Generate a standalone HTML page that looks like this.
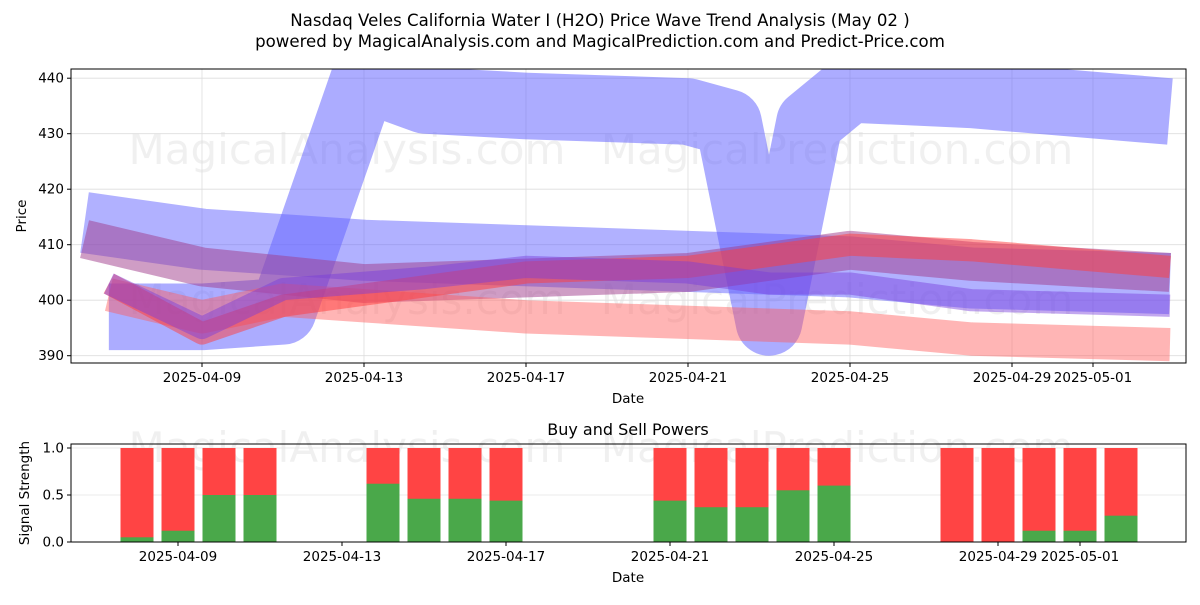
<!DOCTYPE html>
<html><head><meta charset="utf-8"><style>
body{margin:0;background:#fff;font-family:"Liberation Sans","DejaVu Sans",sans-serif}
svg text{font-family:"DejaVu Sans","Liberation Sans",sans-serif;fill:#000}
</style></head><body>
<svg id="chart" width="1200" height="600" viewBox="0 0 1200 600" xmlns="http://www.w3.org/2000/svg">
<text x="600" y="26" font-size="16.6" text-anchor="middle">Nasdaq Veles California Water I (H2O) Price Wave Trend Analysis (May 02 )</text>
<text x="600" y="47" font-size="16.6" text-anchor="middle">powered by MagicalAnalysis.com and MagicalPrediction.com and Predict-Price.com</text>
<g id="topPanel"></g>
<g id="botPanel"></g>
</svg>
<script>
// ---- data ----
const bandDays = [-2.9,-2.3,0,2,4,5.5,8,12,13,14,15,16,19,21,23.9];
const bigBand = [null,397,397,398,440,436,435,434,432,396,432,438,437,null,434];
const upperBand = [414,null,411,null,409,null,408,407,null,null,null,406,404,null,403];
const purpleBand = [411,null,406,null,403,null,404,405,null,null,null,409,407,null,405];
const redLowBand = [null,401,397,400,399,null,397,396,null,null,null,395,393,null,392];
const redMidBand = [null,403,394,399,401,null,405,406,null,null,null,410,409,null,406];
const purpleLowBand = [null,403,395,402,null,404,406,405,null,403,null,403,400,null,399];
const bandWidths = [12,11,7,6,4,4];
const topTicks = [390,400,410,420,430,440];
const dateTickDays = [0,4,8,12,16,20,22];
const dateTickLabels = ["2025-04-09","2025-04-13","2025-04-17","2025-04-21","2025-04-25","2025-04-29","2025-05-01"];
const barDays = [-1,0,1,2,5,6,7,8,12,13,14,15,16,19,20,21,22,23];
const buyPower = [0.05,0.12,0.5,0.5,0.62,0.46,0.46,0.44,0.44,0.37,0.37,0.55,0.6,0,0,0.12,0.12,0.28];
const botTicks = [0,0.5,1];
const botTickLabels = ["0.0","0.5","1.0"];

const NS="http://www.w3.org/2000/svg";
function mk(tag,attrs,parent,txt){const e=document.createElementNS(NS,tag);for(const k in attrs)e.setAttribute(k,attrs[k]);if(txt!==undefined)e.textContent=txt;parent.appendChild(e);return e;}
const topG=document.getElementById('topPanel'), botG=document.getElementById('botPanel');
const TL=71,TR=1186,TT=69,TB=363;
const tx=d=>202+40.5*d, ty=v=>355.7-(v-390)*5.55;
const BT=444,BB=542;
const bx=d=>178+41*d, by=v=>542-v*94;

// watermarks
[[150,"MagicalAnalysis.com",347],[150,"MagicalPrediction.com",837],[300,"MagicalAnalysis.com",347],[300,"MagicalPrediction.com",837],[448,"MagicalAnalysis.com",347],[448,"MagicalPrediction.com",837]].forEach(w=>{
  const t=mk('text',{x:w[2],y:w[0]+14,'font-size':42,'text-anchor':'middle',style:'fill:#000;fill-opacity:0.06'},topG,w[1]);
  
  
});
// grid
topTicks.forEach(v=>{const l=mk('line',{x1:TL,x2:TR,y1:ty(v),y2:ty(v),stroke:'#ddd','stroke-width':0.8},topG);
 
 });
dateTickDays.forEach(d=>{const l=mk('line',{x1:tx(d),x2:tx(d),y1:TT,y2:TB,stroke:'#ddd','stroke-width':0.8},topG);
 
 });
// bands
const clip=mk('clipPath',{id:'tc'},topG);mk('rect',{x:TL,y:TT,width:TR-TL,height:TB-TT},clip);
const bg=mk('g',{'clip-path':'url(#tc)'},topG);
const bands=[[bigBand,'rgba(90,90,255,0.5)'],[upperBand,'rgba(100,100,255,0.5)'],[purpleBand,'rgba(160,60,140,0.5)'],[redLowBand,'rgba(255,90,90,0.45)'],[redMidBand,'rgba(255,60,60,0.5)'],[purpleLowBand,'rgba(120,60,220,0.45)']];
const bandNames=['wave-band-large-blue','wave-band-upper-blue','wave-band-purple','wave-band-lower-red','wave-band-middle-red','wave-band-lower-purple'];
bands.forEach((b,i)=>{
  const pts=[];b[0].forEach((v,j)=>{if(v!==null)pts.push(tx(bandDays[j])+','+ty(v));});
  const pl=mk('polyline',{points:pts.join(' '),fill:'none',stroke:b[1],'stroke-width':bandWidths[i]*5.55,'stroke-linejoin':'round','stroke-linecap':'butt'},bg);
  
  
});
mk('rect',{x:TL,y:TT,width:TR-TL,height:TB-TT,fill:'none',stroke:'#000','stroke-width':1},topG);
topTicks.forEach(v=>{mk('line',{x1:TL-4,x2:TL,y1:ty(v),y2:ty(v),stroke:'#000'},topG);
 const t=mk('text',{x:TL-7,y:ty(v)+4.5,'font-size':13.5,'text-anchor':'end'},topG,v);
 
 });
dateTickDays.forEach((d,i)=>{mk('line',{x1:tx(d),x2:tx(d),y1:TB,y2:TB+4,stroke:'#000'},topG);
 const t=mk('text',{x:tx(d),y:TB+19,'font-size':13.5,'text-anchor':'middle'},topG,dateTickLabels[i]);
 
 });
mk('text',{x:628,y:403,'font-size':13.5,'text-anchor':'middle',},topG,'Date');
mk('text',{x:26,y:216,'font-size':13.5,'text-anchor':'middle',transform:'rotate(-90 26 216)',},topG,'Price');

// bottom
mk('text',{x:628,y:435,'font-size':16,'text-anchor':'middle',},botG,'Buy and Sell Powers');
botTicks.forEach(v=>{const l=mk('line',{x1:TL,x2:TR,y1:by(v),y2:by(v),stroke:'#e4e4e4','stroke-width':0.8},botG);
 
 });
barDays.forEach((d,i)=>{
  const r=mk('rect',{x:bx(d)-16.5,y:by(1),width:33,height:by(0)-by(1),fill:'#ff4444'},botG);
  
  
  const g=mk('rect',{x:bx(d)-16.5,y:by(buyPower[i]),width:33,height:by(0)-by(buyPower[i]),fill:'#4aa84a'},botG);
  
  
});
mk('rect',{x:TL,y:BT,width:TR-TL,height:BB-BT,fill:'none',stroke:'#000','stroke-width':1},botG);
botTicks.forEach((v,i)=>{mk('line',{x1:TL-4,x2:TL,y1:by(v),y2:by(v),stroke:'#000'},botG);
 const t=mk('text',{x:TL-7,y:by(v)+4.5,'font-size':13.5,'text-anchor':'end'},botG,botTickLabels[i]);
 
 });
dateTickDays.forEach((d,i)=>{mk('line',{x1:bx(d),x2:bx(d),y1:BB,y2:BB+4,stroke:'#000'},botG);
 const t=mk('text',{x:bx(d),y:BB+19,'font-size':13.5,'text-anchor':'middle'},botG,dateTickLabels[i]);
 
 });
mk('text',{x:628,y:582,'font-size':13.5,'text-anchor':'middle',},botG,'Date');
mk('text',{x:29,y:493,'font-size':13.5,'text-anchor':'middle',transform:'rotate(-90 29 493)',},botG,'Signal Strength');
</script>
</body></html>
